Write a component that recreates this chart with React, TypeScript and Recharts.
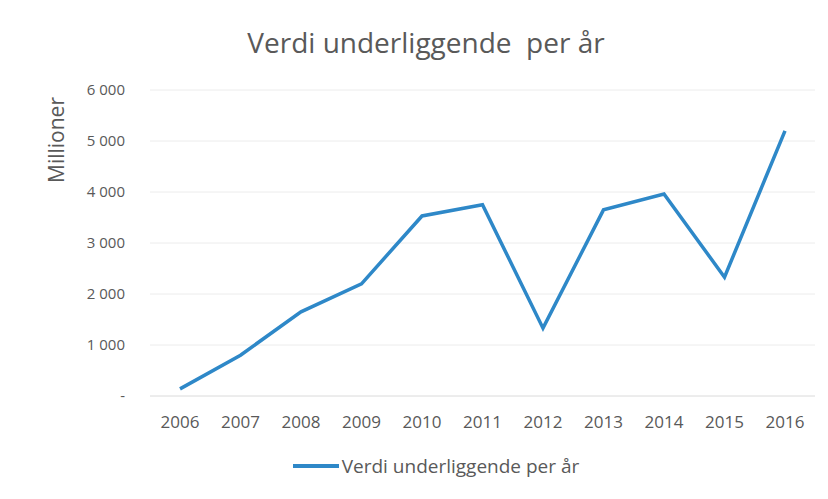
import { CartesianGrid, Line, LineChart, XAxis, YAxis } from "recharts";

const years = ["2006", "2007", "2008", "2009", "2010", "2011", "2012", "2013", "2014", "2015", "2016"];
const verdi = [140, 800, 1650, 2200, 3530, 3750, 1330, 3650, 3960, 2330, 5200];
const yTicks = [0, 1000, 2000, 3000, 4000, 5000, 6000];

const data = years.map((year, i) => ({ year, verdi: verdi[i] }));

const FONT = "'Open Sans', 'Noto Sans', sans-serif";
const GRAY = "#595959";
const BLUE = "#2E88C8";

const fmt = (v: number) => (v === 0 ? "-" : v.toLocaleString("en-US").replace(/,/g, " "));

export default function App() {
  return (
    <div style={{ position: "relative", width: 828, height: 499, background: "#fff" }}>
      <style>{"body{margin:0}"}</style>
      <div style={{ position: "absolute", top: 23, left: 12, width: 828, textAlign: "center", fontFamily: FONT, fontSize: 28, color: GRAY }}>
        Verdi underliggende&nbsp; per år
      </div>
      <div
        style={{
          position: "absolute",
          left: 56,
          top: 140,
          transform: "translate(-50%, -50%) rotate(-90deg)",
          fontFamily: FONT,
          fontSize: 21,
          color: GRAY,
          whiteSpace: "nowrap",
        }}
      >
        Millioner
      </div>
      <div
        style={{
          position: "absolute",
          top: 453,
          left: 22,
          width: 828,
          display: "flex",
          alignItems: "center",
          justifyContent: "center",
          fontFamily: FONT,
          fontSize: 19,
          color: GRAY,
        }}
      >
        <span style={{ display: "inline-block", width: 46, height: 4, background: BLUE, marginRight: 3 }} />
        Verdi underliggende per år
      </div>
      <LineChart width={828} height={499} data={data} margin={{ top: 90, right: 13, bottom: 73, left: 0 }}>
        <CartesianGrid vertical={false} stroke="#ececec" />
        <XAxis
          dataKey="year"
          padding={{ left: 30, right: 30 }}
          axisLine={{ stroke: "#e4e4e4" }}
          tickLine={false}
          tickMargin={14}
          tick={{ fill: GRAY, fontSize: 17, fontFamily: FONT }}
        />
        <YAxis
          width={150}
          domain={[0, 6000]}
          ticks={yTicks}
          tickFormatter={fmt}
          axisLine={false}
          tickLine={false}
          tickSize={0}
          tickMargin={25}
          tick={{ fill: GRAY, fontSize: 15, fontFamily: FONT }}
        />
        <Line
          type="linear"
          dataKey="verdi"
          stroke={BLUE}
          strokeWidth={3.5}
          dot={false}
          isAnimationActive={false}
        />
      </LineChart>
    </div>
  );
}
